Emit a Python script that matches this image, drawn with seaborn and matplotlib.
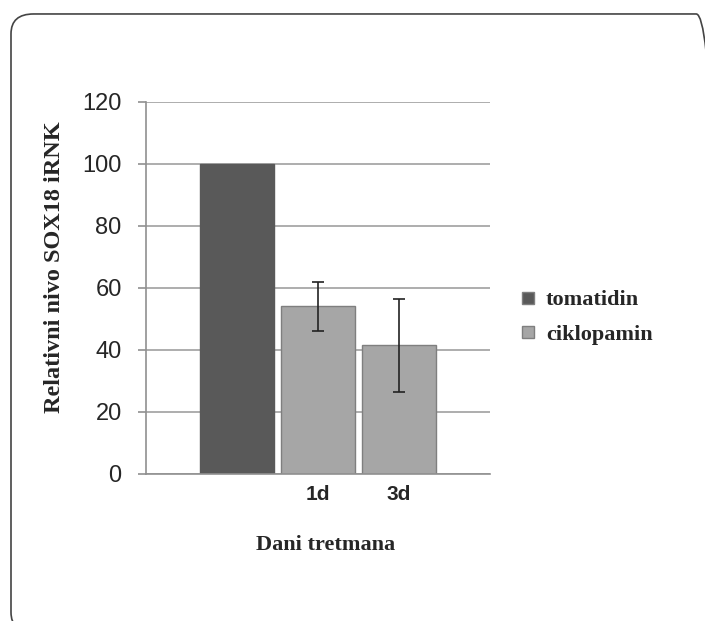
import matplotlib
matplotlib.use("Agg")
import matplotlib.pyplot as plt
import seaborn as sns
import pandas as pd
from matplotlib.patches import FancyBboxPatch

# Data
days = ["0d", "1d", "3d"]
tick_labels = ["", "1d", "3d"]
groups = ["tomatidin", "ciklopamin", "ciklopamin"]
values = [100, 54, 41.5]
err_low = [0, 8, 15]
err_high = [0, 8, 15]

colors = {"tomatidin": "#595959", "ciklopamin": "#a6a6a6"}

df = pd.DataFrame({"dan": days, "grupa": groups, "vrednost": values})

sns.set_style("white")
fig = plt.figure(figsize=(7.05, 6.21), dpi=100)
ax = fig.add_axes([0.207, 0.237, 0.488, 0.599])

sns.barplot(data=df, x="dan", y="vrednost", hue="grupa", dodge=False,
            palette=colors, width=0.91, ax=ax, legend=False)

for p, g in zip(ax.patches, df["grupa"]):
    p.set_edgecolor("#7f7f7f" if g == "ciklopamin" else "#595959")
    p.set_linewidth(1)

# error bars for ciklopamin only
for i, (v, lo, hi) in enumerate(zip(values, err_low, err_high)):
    if lo or hi:
        ax.errorbar(i, v, yerr=[[lo], [hi]], color="#222222", capsize=4,
                    elinewidth=1.2, capthick=1.2, fmt="none", zorder=5)

ax.set_xlim(-1.12, 3.12)
ax.set_ylim(0, 120)
ax.set_yticks(range(0, 121, 20))
ax.yaxis.grid(True, color="#a0a0a0", linewidth=1.2)
ax.set_axisbelow(True)
for s in ["top", "right"]:
    ax.spines[s].set_visible(False)
ax.spines["left"].set_color("#909090")
ax.spines["bottom"].set_color("#909090")
ax.spines["left"].set_linewidth(1.2)
ax.spines["bottom"].set_linewidth(1.2)

ax.tick_params(axis="y", length=6, width=1.2, color="#909090", pad=11.5,
               labelsize=17, left=True)
ax.tick_params(axis="x", length=0, pad=8)
ax.set_xticks(range(len(days)))
ax.set_xticklabels(tick_labels, fontsize=15, fontweight="bold", family="Liberation Sans")
for t in ax.get_yticklabels():
    t.set_family("Liberation Sans")

ax.set_xlabel("")
ax.set_ylabel("")
fig.text(326 / 705, 1 - 545 / 621, "Dani tretmana", fontsize=16, fontweight="bold",
         family="Liberation Serif", ha="center", va="center")
fig.text(55 / 705, 1 - 267 / 621, "Relativni nivo SOX18 iRNK", fontsize=17.5,
         fontweight="bold", family="Liberation Serif", rotation=90,
         ha="center", va="center")

handles = [plt.Line2D([], [], marker="s", linestyle="none", markersize=8,
                      markerfacecolor=colors[g], markeredgecolor="#7f7f7f")
           for g in ["tomatidin", "ciklopamin"]]
fig.legend(handles, ["tomatidin", "ciklopamin"], loc="center left",
           bbox_to_anchor=(0.705, 0.489), frameon=False, handletextpad=0.3,
           handlelength=1.0, labelspacing=0.62,
           prop={"family": "Liberation Serif", "weight": "bold", "size": 16})

# rounded frame around the figure (runs off the right and bottom edges)
frame = FancyBboxPatch((0.0156, -0.018), 1.0, 0.9955, transform=fig.transFigure,
                       boxstyle="round,pad=0,rounding_size=0.032",
                       facecolor="none", edgecolor="#444444", linewidth=1.2)
frame.set_width(1.004)
fig.patches.append(frame)

fig.savefig("out.png", dpi=100)
